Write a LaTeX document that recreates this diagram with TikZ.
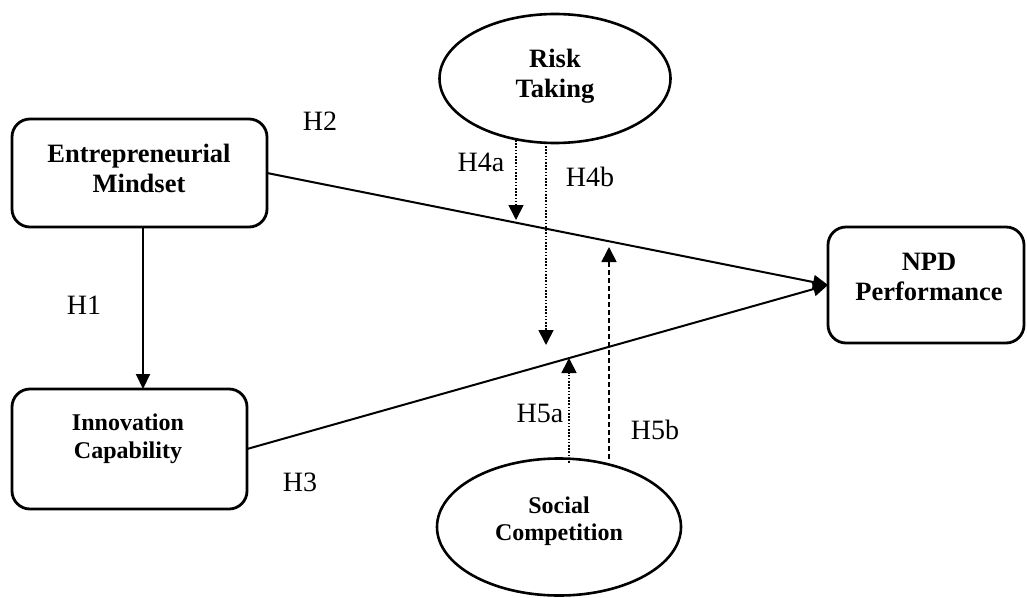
\documentclass[tikz,border=0pt]{standalone}
\usepackage{fontspec}
\setmainfont{Liberation Serif}
\usetikzlibrary{shapes.geometric,arrows.meta,calc}
\begin{document}
\begin{tikzpicture}[x=1pt,y=-1pt,
 box/.style={draw,line width=2.8pt,rounded corners=18pt,inner sep=0pt,outer sep=0pt},
 oval/.style={draw,ellipse,line width=2.6pt,inner sep=0pt,outer sep=0pt},
 bigtxt/.style={font=\bfseries\fontsize{26.5}{30}\selectfont,align=center,inner sep=0pt},
 smalltxt/.style={font=\bfseries\fontsize{24}{27.5}\selectfont,align=center,inner sep=0pt},
 hyp/.style={font=\fontsize{28}{30}\selectfont,inner sep=0pt},
 arr/.style={line width=2pt,-{Triangle[length=15pt,width=14pt]}},
 dotarr/.style={line width=1.7pt,dash pattern=on 1.6pt off 1.6pt,-{Triangle[length=15pt,width=15pt]}},
 dasharr/.style={line width=1.7pt,dash pattern=on 5pt off 3pt,-{Triangle[length=15pt,width=15pt]}}]
\useasboundingbox (0,0) rectangle (1027,597);

\node[box,minimum width=255pt,minimum height=108pt] (EM) at (139.5,173) {};
\node[bigtxt] (EMt) at (139,168) {Entrepreneurial\\Mindset};
\node[box,minimum width=235pt,minimum height=120pt] (IC) at (129.5,449) {};
\node[smalltxt] (ICt) at (128,439) {Innovation\\Capability};
\node[box,minimum width=196pt,minimum height=116pt] (NPD) at (926,285) {};
\node[bigtxt] (NPDt) at (929,277) {NPD\\Performance};
\node[oval,minimum width=231pt,minimum height=129pt] (RT) at (555,78.5) {};
\node[bigtxt] (RTt) at (555,76) {Risk\\Taking};
\node[oval,minimum width=244pt,minimum height=137pt] (SC) at (559,527) {};
\node[smalltxt] (SCt) at (559,521) {Social\\Competition};

\draw[arr] (EM.east) -- (NPD.west);
\draw[arr] (IC.east) -- (NPD.west);
\draw[arr] ([xshift=3.5pt]EM.south) -- ([xshift=3.5pt]EM.south |- IC.north);

\coordinate (t4a) at (516,220);
\coordinate (t4b) at (546,345);
\coordinate (t5a) at (569,358);
\coordinate (t5b) at (609,247);
\draw[dotarr] ($(RT.south -| t4a)+(0,-3)$) -- (t4a);
\draw[dotarr] ($(RT.south -| t4b)+(0,3)$) -- (t4b);
\draw[dotarr] ($(SC.north -| t5a)+(0,4)$) -- (t5a);
\draw[dasharr] (SC.north -| t5b) -- (t5b);

\node[hyp] (H1) at (84,305) {H1};
\node[hyp] (H2) at (320,121) {H2};
\node[hyp] (H3) at (300,482) {H3};
\node[hyp] (H4a) at (481,162) {H4a};
\node[hyp] (H4b) at (590,177) {H4b};
\node[hyp] (H5a) at (540,413) {H5a};
\node[hyp] (H5b) at (655,430) {H5b};
\end{tikzpicture}
\end{document}
